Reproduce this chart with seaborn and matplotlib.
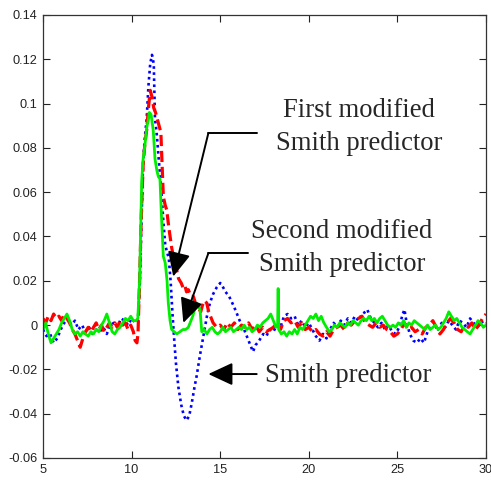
import matplotlib
matplotlib.use("Agg")
import matplotlib.pyplot as plt
import seaborn as sns

# Smith predictor (blue, dotted)
t_smith = [5.0, 5.2, 5.4, 5.6, 5.8, 6.0, 6.2, 6.4, 6.6, 6.8, 7.0, 7.2, 7.4, 7.6, 7.8, 8.0, 8.2, 8.4, 8.6, 8.8,
           9.0, 9.2, 9.4, 9.6, 9.8, 10.0, 10.2, 10.35,
           10.45, 10.55, 10.65, 10.75, 10.85, 10.95, 11.05, 11.15, 11.25, 11.32, 11.4, 11.51, 11.6, 11.7, 11.79,
           11.9, 12.0, 12.1, 12.2, 12.3, 12.4, 12.5, 12.64, 12.8, 12.95, 13.1, 13.25, 13.4, 13.55, 13.67, 13.85,
           14.05, 14.25, 14.42, 14.6, 14.8, 15.0, 15.1, 15.3, 15.5, 15.74, 15.9, 16.1, 16.3, 16.5, 16.7, 16.85,
           17.0, 17.2, 17.43, 17.6, 17.8, 18.0, 18.2, 18.4, 18.6, 18.8, 19.0, 19.2, 19.4, 19.6, 19.8, 20.0, 20.2,
           20.4, 20.6, 20.8, 21.0, 21.2, 21.4, 21.6, 21.8, 22.0, 22.2, 22.4, 22.6, 22.8, 23.0, 23.2, 23.3, 23.5,
           23.7, 23.9, 24.1, 24.3, 24.5, 24.7, 24.9, 25.1, 25.3, 25.4, 25.5, 25.7, 25.9, 26.1, 26.3, 26.5, 26.7,
           26.9, 27.1, 27.3, 27.5, 27.7, 27.9, 28.1, 28.3, 28.5, 28.7, 28.9, 29.1, 29.3, 29.5, 29.7, 29.9, 30.0]
y_smith = [-0.002, -0.005, -0.004, -0.008, -0.006, -0.002, 0.001, 0.003, 0.0, 0.002, -0.002, 0.0, -0.003, -0.001,
           -0.004, -0.002, -0.003, -0.001, -0.004, 0.0, 0.001, -0.001, 0.003, 0.002, 0.0, 0.003, 0.001, 0.002,
           0.015, 0.045, 0.074, 0.085, 0.093, 0.108, 0.118, 0.122, 0.118, 0.093, 0.088, 0.077, 0.068, 0.058, 0.047,
           0.036, 0.033, 0.03, 0.02, 0.006, -0.006, -0.017, -0.028, -0.036, -0.041, -0.043, -0.041, -0.035, -0.028,
           -0.023, -0.014, -0.005, 0.004, 0.010, 0.014, 0.017, 0.019, 0.018, 0.015, 0.013, 0.009, 0.006, 0.002,
           -0.001, -0.005, -0.009, -0.012, -0.009, -0.007, -0.004, -0.005, -0.002, -0.003, 0.0, -0.001, 0.004,
           0.005, 0.003, 0.004, 0.0, 0.002, -0.001, 0.001, -0.002, -0.005, -0.007, -0.004, -0.006, -0.002, 0.001,
           -0.001, 0.002, 0.0, 0.003, 0.001, 0.004, 0.002, 0.005, 0.006, 0.007, 0.003, 0.001, -0.001, 0.001,
           -0.002, 0.0, -0.003, -0.004, -0.001, 0.005, 0.007, 0.002, -0.004, -0.007, -0.008, -0.006, -0.008,
           -0.003, -0.001, 0.0, -0.002, 0.001, -0.001, 0.002, 0.0, -0.002, 0.002, 0.001, -0.001, 0.003, 0.001,
           -0.001, 0.001, 0.002, 0.001]

# First modified Smith predictor (red, dashed)
t_first = [5.0, 5.15, 5.3, 5.45, 5.6, 5.75, 5.9, 6.05, 6.2, 6.35, 6.5, 6.65, 6.8, 6.95, 7.1, 7.25, 7.4, 7.55,
           7.7, 7.85, 8.0, 8.15, 8.3, 8.45, 8.6, 8.75, 8.9, 9.05, 9.2, 9.35, 9.5, 9.65, 9.8, 9.95, 10.1, 10.2,
           10.3, 10.36,
           10.45, 10.55, 10.65, 10.75, 10.85, 10.95, 11.05, 11.15, 11.25, 11.35, 11.45, 11.55, 11.65, 11.72, 11.79,
           11.9, 11.98, 12.1, 12.26, 12.4, 12.54, 12.65, 12.8, 12.9, 13.0, 13.1, 13.2, 13.35, 13.48, 13.6, 13.75,
           13.9, 14.0, 14.1, 14.24, 14.35, 14.5, 14.6, 14.8, 15.0, 15.2, 15.4, 15.6, 15.8, 16.0, 16.2, 16.4, 16.6,
           16.8, 17.0, 17.2, 17.4, 17.6, 17.8, 18.0, 18.2, 18.4, 18.6, 18.8, 19.0, 19.2, 19.4, 19.6, 19.8, 20.0,
           20.2, 20.4, 20.6, 20.8, 21.0, 21.2, 21.4, 21.6, 21.8, 22.0, 22.2, 22.4, 22.6, 22.8, 23.0, 23.2, 23.4,
           23.6, 23.8, 24.0, 24.2, 24.4, 24.6, 24.8, 25.0, 25.2, 25.4, 25.6, 25.8, 26.0, 26.2, 26.4, 26.6, 26.8,
           27.0, 27.2, 27.4, 27.6, 27.8, 28.0, 28.2, 28.4, 28.6, 28.8, 29.0, 29.2, 29.4, 29.6, 29.8, 30.0]
y_first = [0.003, 0.001, 0.004, 0.002, 0.005, 0.003, 0.004, 0.002, 0.005, 0.003, 0.001, -0.002, -0.004, -0.007,
           -0.010, -0.006, -0.003, -0.001, -0.003, -0.001, 0.001, -0.002, 0.0, -0.003, -0.001, 0.001, -0.001,
           0.001, -0.001, 0.002, 0.0, 0.001, -0.002, 0.0, -0.003, -0.007, -0.008, -0.004,
           0.02, 0.05, 0.072, 0.082, 0.088, 0.098, 0.106, 0.103, 0.098, 0.096, 0.093, 0.09, 0.087, 0.072, 0.058,
           0.054, 0.052, 0.044, 0.035, 0.029, 0.025, 0.021, 0.019, 0.017, 0.018, 0.015, 0.016, 0.013, 0.013,
           0.010, 0.008, 0.006, 0.009, 0.011, 0.010, 0.006, 0.003, 0.001, -0.001, 0.0, -0.002, 0.001, -0.001,
           0.001, -0.002, 0.0, -0.001, 0.001, -0.002, 0.0, -0.003, -0.001, -0.003, -0.002, -0.001, 0.001, -0.002,
           0.002, 0.003, 0.001, 0.002, -0.001, 0.001, -0.002, -0.001, -0.003, -0.002, -0.004, -0.005, -0.003,
           -0.005, -0.002, -0.001, 0.0, -0.002, 0.001, 0.0, 0.002, 0.003, 0.004, 0.001, 0.0, -0.001, 0.001,
           -0.001, 0.0, -0.002, -0.003, -0.005, -0.004, -0.002, 0.001, -0.002, -0.001, -0.003, -0.002, -0.004,
           -0.001, 0.0, 0.002, -0.001, -0.004, -0.002, 0.001, 0.003, 0.001, -0.002, -0.003, 0.0, -0.001, 0.001,
           -0.002, 0.0, 0.003, 0.005]

# Second modified Smith predictor (green, solid)
t_second = [5.0, 5.15, 5.3, 5.45, 5.6, 5.75, 5.9, 6.05, 6.2, 6.35, 6.5, 6.65, 6.8, 6.95, 7.1, 7.25, 7.4, 7.55,
            7.7, 7.85, 8.0, 8.15, 8.3, 8.45, 8.6, 8.75, 8.9, 9.05, 9.2, 9.35, 9.5, 9.65, 9.8, 9.95, 10.1, 10.25,
            10.35,
            10.45, 10.52, 10.57, 10.65, 10.75, 10.85, 10.95, 11.0, 11.1, 11.22, 11.32, 11.42, 11.51, 11.6, 11.68,
            11.79, 11.9, 12.0, 12.07, 12.17, 12.26, 12.4, 12.55, 12.73, 12.9, 13.05, 13.2, 13.3, 13.45, 13.55,
            13.67, 13.75, 13.86, 13.96, 14.1, 14.25, 14.4, 14.55, 14.7, 14.85, 15.0, 15.15, 15.3, 15.45, 15.6,
            15.75, 15.9, 16.05, 16.2, 16.35, 16.5, 16.65, 16.8, 16.95, 17.1, 17.25, 17.4, 17.55, 17.7, 17.85, 18.0,
            18.15, 18.24, 18.27, 18.3, 18.45, 18.6, 18.75, 18.9, 19.05, 19.2, 19.35, 19.5, 19.65, 19.8, 19.95,
            20.1, 20.25, 20.4, 20.55, 20.7, 20.85, 21.0, 21.15, 21.3, 21.45, 21.6, 21.75, 21.9, 22.05, 22.2,
            22.35, 22.5, 22.65, 22.8, 22.95, 23.1, 23.25, 23.4, 23.55, 23.7, 23.85, 24.0, 24.15, 24.3, 24.45,
            24.6, 24.75, 24.9, 25.05, 25.2, 25.35, 25.5, 25.65, 25.8, 25.95, 26.1, 26.25, 26.4, 26.55, 26.7,
            26.85, 27.0, 27.15, 27.3, 27.45, 27.6, 27.75, 27.9, 28.05, 28.2, 28.35, 28.5, 28.65, 28.8, 28.95,
            29.1, 29.25, 29.4, 29.55, 29.7, 29.85, 30.0]
y_second = [-0.002, 0.001, -0.004, -0.008, -0.006, -0.004, -0.002, 0.001, 0.003, 0.005, 0.002, -0.002, -0.004,
            -0.003, -0.005, -0.003, -0.004, -0.005, -0.003, -0.004, -0.002, -0.003, 0.0, 0.002, 0.005, 0.001,
            -0.003, -0.004, -0.002, -0.001, 0.001, 0.003, 0.002, 0.004, 0.002, 0.002, 0.003,
            0.02, 0.045, 0.065, 0.075, 0.081, 0.089, 0.093, 0.096, 0.095, 0.088, 0.075, 0.07, 0.067, 0.066, 0.05,
            0.031, 0.028, 0.02, 0.01, 0.002, -0.002, -0.003, -0.004, -0.003, -0.002, -0.002, -0.001, 0.001,
            0.004, 0.007, 0.010, 0.009, 0.007, -0.003, -0.002, -0.004, -0.002, -0.001, -0.003, -0.004, -0.003,
            -0.001, -0.003, -0.002, -0.001, -0.003, -0.002, -0.001, -0.002, 0.0, -0.002, -0.001, -0.003, -0.002,
            0.0, -0.001, 0.001, 0.002, 0.003, 0.005, 0.002, -0.001, 0.0, 0.0165, -0.002, -0.004, -0.003, -0.005,
            -0.003, -0.004, -0.002, -0.004, -0.001, -0.002, 0.0, 0.002, 0.004, 0.003, 0.005, 0.002, 0.004, 0.001,
            -0.001, -0.003, -0.002, 0.0, -0.001, 0.001, 0.0, -0.001, 0.001, 0.0, 0.002, 0.001, 0.0, 0.002, 0.003,
            0.002, 0.004, 0.002, 0.003, 0.001, 0.003, 0.004, 0.002, 0.0, -0.001, 0.0, -0.001, 0.001, 0.0, 0.002,
            -0.001, 0.001, 0.0, 0.002, 0.001, 0.0, -0.001, -0.002, 0.0, -0.002, -0.001, 0.0, -0.002, -0.001,
            0.001, 0.003, 0.006, 0.004, 0.002, 0.003, 0.001, -0.001, -0.002, -0.003, -0.004, -0.002, 0.0, 0.002,
            0.001, -0.001, 0.0]

x_ticks = [5, 10, 15, 20, 25, 30]
y_ticks = [-0.06, -0.04, -0.02, 0, 0.02, 0.04, 0.06, 0.08, 0.1, 0.12, 0.14]
y_tick_labels = ["-0.06", "-0.04", "-0.02", "0", "0.02", "0.04", "0.06", "0.08", "0.1", "0.12", "0.14"]

sns.set_style("ticks")
plt.rcParams["font.family"] = ["Liberation Sans", "DejaVu Sans"]

fig = plt.figure(figsize=(4.91, 4.82), dpi=100)
ax = fig.add_axes([0.0876, 0.0498, 0.9022, 0.9191])

sns.lineplot(x=t_smith, y=y_smith, ax=ax, color="#0000ff", linestyle=(0, (1, 1.3)), linewidth=1.9, sort=False)
sns.lineplot(x=t_first, y=y_first, ax=ax, color="#ff0000", linestyle=(0, (3.5, 1.5)), linewidth=2.3, sort=False)
sns.lineplot(x=t_second, y=y_second, ax=ax, color="#00ee00", linestyle="-", linewidth=2.0, sort=False)

ax.set_xlim(5, 30)
ax.set_ylim(-0.06, 0.14)
ax.set_xticks(x_ticks)
ax.set_xticklabels([str(v) for v in x_ticks])
ax.set_yticks(y_ticks)
ax.set_yticklabels(y_tick_labels)
ax.tick_params(direction="in", length=5, width=0.8, top=True, right=True, labelsize=9.2, pad=4,
               colors="#222222")
for s in ax.spines.values():
    s.set_linewidth(0.9)
    s.set_color("#333333")

# annotations
serif = ["Liberation Serif", "DejaVu Serif"]
head = dict(arrowstyle="-|>,head_length=0.6,head_width=0.28", mutation_scale=25, color="k", lw=1.4,
            shrinkA=0, shrinkB=0)

ax.plot([17.06, 14.33], [0.0866, 0.0866], color="k", lw=1.4)
ax.annotate("", xy=(12.35, 0.0219), xytext=(14.33, 0.0866), arrowprops=head)
ax.text(22.83, 0.0894, "First modified\nSmith predictor", family=serif, fontsize=19.2,
        ha="center", va="center", linespacing=1.45)

ax.plot([16.59, 14.33], [0.0324, 0.0324], color="k", lw=1.4)
ax.annotate("", xy=(12.92, 0.001), xytext=(14.33, 0.0324), arrowprops=head)
ax.text(21.87, 0.0348, "Second modified\nSmith predictor", family=serif, fontsize=19.2,
        ha="center", va="center", linespacing=1.45)

ax.annotate("", xy=(14.33, -0.0221), xytext=(17.06, -0.0221), arrowprops=head)
ax.text(17.53, -0.0228, "Smith predictor", family=serif, fontsize=19.2, ha="left", va="center")

fig.savefig("out.png", dpi=100)
